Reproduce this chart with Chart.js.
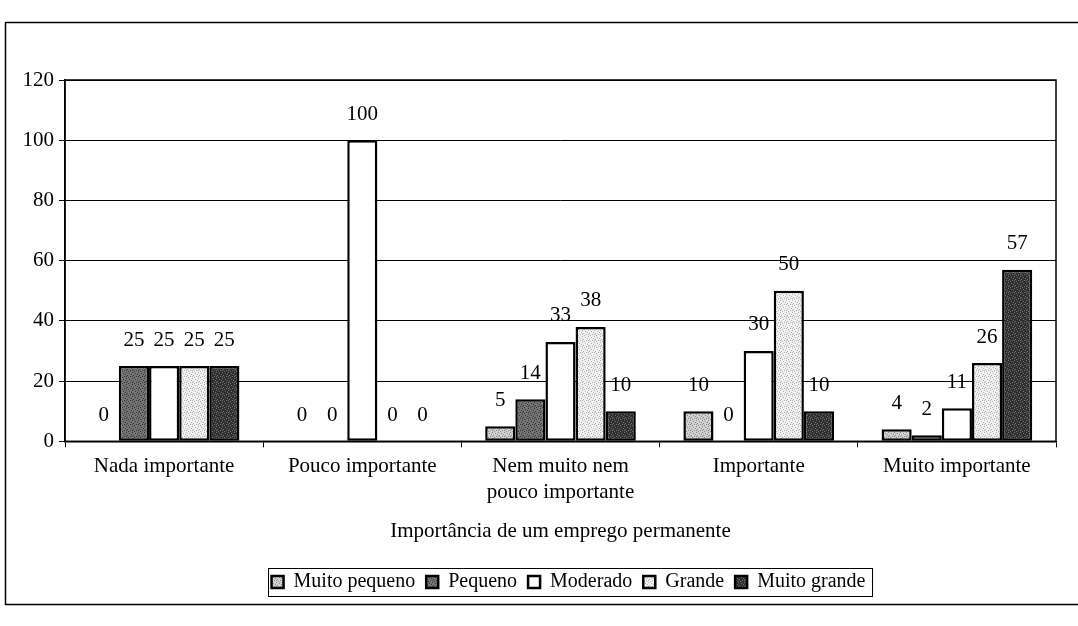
<!DOCTYPE html>
<html>
<head>
<meta charset="utf-8">
<script src="https://cdn.jsdelivr.net/npm/chart.js@4"></script>
<style>
html,body{margin:0;padding:0;background:#fff;}
#wrap{width:1078px;height:626px;}
</style>
</head>
<body>
<div id="wrap"><canvas id="importanciaChart" width="1078" height="626"></canvas></div>
<script>
// dados
var categorias = ['Nada importante', 'Pouco importante', ['Nem muito nem', 'pouco importante'], 'Importante', 'Muito importante'];
var series = ['Muito pequeno', 'Pequeno', 'Moderado', 'Grande', 'Muito grande'];
var muitoPequeno = [0, 0, 5, 10, 4];
var pequeno = [25, 0, 14, 0, 2];
var moderado = [25, 100, 33, 30, 11];
var grande = [25, 0, 38, 50, 26];
var muitoGrande = [25, 0, 10, 10, 57];
var yMax = 120, yPasso = 20;

var canvas = document.getElementById('importanciaChart');
var ctx = canvas.getContext('2d');
var fonte = '"Liberation Serif", "Times New Roman", serif';
var tam = 21;

// textura pontilhada tipo impressao do excel
function pontilhado(base, cor){
    var t = document.createElement('canvas');
    t.width = 6; t.height = 6;
    var g = t.getContext('2d');
    g.fillStyle = base; g.fillRect(0, 0, 6, 6);
    g.fillStyle = cor;
    [[0,0],[3,1],[1,3],[4,4],[2,5],[5,2],[0,4]].forEach(function(p){ g.fillRect(p[0], p[1], 1, 1) });
    return ctx.createPattern(t, 'repeat');
}
var cores = [
    pontilhado('#d0d0d0', '#888888'),
    pontilhado('#737373', '#363636'),
    '#ffffff',
    pontilhado('#f0f0f0', '#b0b0b0'),
    pontilhado('#303030', '#707070')
];
var valores = [muitoPequeno, pequeno, moderado, grande, muitoGrande];

var rotulos = {
    id:'rotulos',
    afterDatasetsDraw:function(chart){
        var c = chart.ctx;
        c.save();
        c.font = tam + 'px ' + fonte;
        c.fillStyle = '#000';
        c.textAlign = 'center';
        c.textBaseline = 'middle';
        chart.data.datasets.forEach(function(ds, i){
            chart.getDatasetMeta(i).data.forEach(function(bar, j){
                c.fillText(ds.data[j], bar.x, bar.y - 26);
            });
        });
        c.restore();
    }
};

var molduras = {
    id:'molduras',
    afterLayout:function(chart){
        // legenda um pouco deslocada para a direita como no original
        chart.legend.left += 38;
        chart.legend.right += 38;
    },
    afterDraw:function(chart){
        var c = chart.ctx, a = chart.chartArea;
        c.save();
        c.strokeStyle = '#000';
        c.lineWidth = 1.5;
        // moldura externa
        c.beginPath();
        c.moveTo(1078, 22.5); c.lineTo(5.5, 22.5); c.lineTo(5.5, 604.5); c.lineTo(1078, 604.5);
        c.stroke();
        // area do grafico
        c.strokeRect(a.left, a.top, a.right - a.left, a.bottom - a.top);
        // caixa da legenda
        var caixas = chart.legend.legendHitBoxes;
        if(caixas && caixas.length){
            var x0 = caixas[0].left - 4, y0 = caixas[0].top - 4;
            var u = caixas[caixas.length - 1];
            var x1 = u.left + u.width + 6, y1 = u.top + u.height + 4;
            c.lineWidth = 1;
            c.strokeRect(Math.round(x0) + 0.5, Math.round(y0) + 0.5, Math.round(x1 - x0), Math.round(y1 - y0));
        }
        c.restore();
    }
};

var importanciaChart = new Chart(canvas, {
    type:'bar',
    data:{
        labels:categorias,
        datasets:series.map(function(nome, i){
            return {
                label:nome,
                data:valores[i],
                backgroundColor:cores[i],
                borderColor:'#000',
                borderWidth:2.5,
                borderSkipped:false,
                categoryPercentage:0.76,
                barPercentage:1
            };
        })
    },
    options:{
        responsive:false,
        animation:false,
        layout:{padding:{left:5, right:22, top:80, bottom:24}},
        plugins:{
            legend:{
                position:'bottom',
                labels:{
                    font:{family:fonte, size:20},
                    color:'#000',
                    boxWidth:12,
                    boxHeight:12,
                    padding:11
                }
            },
            tooltip:{enabled:false}
        },
        scales:{
            y:{
                min:0, max:yMax,
                afterFit:function(s){ s.width = 60 },
                ticks:{stepSize:yPasso, color:'#000', font:{family:fonte, size:tam}, padding:5},
                grid:{color:'#000', lineWidth:1, tickLength:6},
                border:{color:'#000', width:1.5}
            },
            x:{
                ticks:{color:'#000', font:{family:fonte, size:tam, lineHeight:1.25}, padding:6, maxRotation:0},
                grid:{drawOnChartArea:false, color:'#000', tickLength:6, offset:true},
                border:{color:'#000', width:1.5},
                title:{display:true, text:'Importância de um emprego permanente', color:'#000', font:{family:fonte, size:tam}, padding:{top:7, bottom:17}}
            }
        }
    },
    plugins:[rotulos, molduras]
});
</script>
</body>
</html>
